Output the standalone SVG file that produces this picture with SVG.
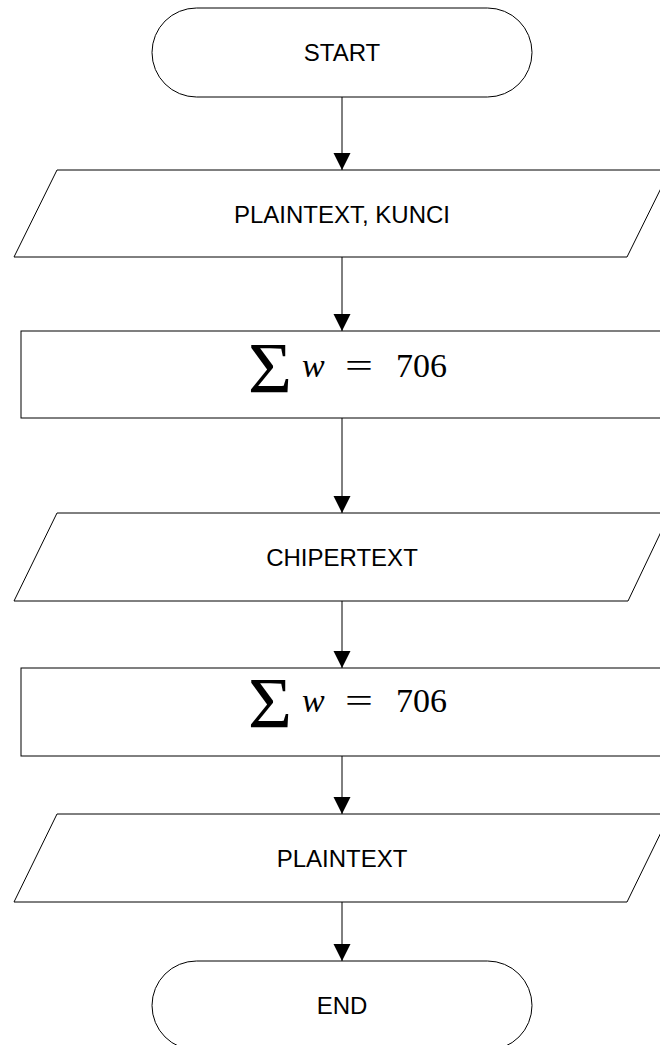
<svg xmlns="http://www.w3.org/2000/svg" width="660" height="1045" viewBox="0 0 660 1045">
  <style>
    .shape { fill: #ffffff; stroke: #000000; stroke-width: 1; }
    .label { font-family: "Liberation Sans", Arial, sans-serif; font-size: 24px; fill: #000000; text-anchor: middle; dominant-baseline: central; }
    .math { font-family: "Liberation Serif", "Times New Roman", serif; fill: #000000; }
    .sum { font-size: 72px; }
    .var { font-size: 34px; font-style: italic; }
    .num { font-size: 34px; }
    .edge { stroke: #000000; stroke-width: 1; fill: none; marker-end: url(#arrow); }
  </style>
  <defs>
    <marker id="arrow" markerUnits="userSpaceOnUse" markerWidth="18" markerHeight="18" refX="17" refY="9" orient="auto">
      <path d="M0,0.5 L17,9 L0,17.5 Z" fill="#000000"/>
    </marker>
  </defs>

  <rect width="660" height="1045" fill="#ffffff"/>

  <!-- connectors -->
  <g id="connectors">
    <line class="edge" x1="342" y1="97" x2="342" y2="170"/>
    <line class="edge" x1="342" y1="257" x2="342" y2="331"/>
    <line class="edge" x1="342" y1="418" x2="342" y2="513"/>
    <line class="edge" x1="342" y1="601" x2="342" y2="668"/>
    <line class="edge" x1="342" y1="756" x2="342" y2="814"/>
    <line class="edge" x1="342" y1="902" x2="342" y2="961"/>
  </g>

  <g id="start">
    <rect class="shape" x="152" y="8" width="380" height="89" rx="44.5" ry="44.5"/>
    <text class="label" x="342" y="52">START</text>
  </g>

  <g id="input-plaintext-kunci">
    <polygon class="shape" points="57,170 670,170 627,257 14,257"/>
    <text class="label" x="342" y="214">PLAINTEXT, KUNCI</text>
  </g>

  <g id="process-1">
    <rect class="shape" x="21" y="331" width="642" height="87"/>
    <text class="math sum" x="248" y="392" textLength="44" lengthAdjust="spacingAndGlyphs">Σ</text>
    <text class="math var" x="302" y="377">w</text>
    <text class="math num" x="345" y="377" textLength="28" lengthAdjust="spacingAndGlyphs">=</text>
    <text class="math num" x="396" y="377">706</text>
  </g>

  <g id="output-chipertext">
    <polygon class="shape" points="57,513 670,513 628,601 14,601"/>
    <text class="label" x="342" y="557">CHIPERTEXT</text>
  </g>

  <g id="process-2">
    <rect class="shape" x="21" y="668" width="642" height="88"/>
    <text class="math sum" x="248" y="727" textLength="44" lengthAdjust="spacingAndGlyphs">Σ</text>
    <text class="math var" x="302" y="712">w</text>
    <text class="math num" x="345" y="712" textLength="28" lengthAdjust="spacingAndGlyphs">=</text>
    <text class="math num" x="396" y="712">706</text>
  </g>

  <g id="output-plaintext">
    <polygon class="shape" points="57,814 670,814 627,902 14,902"/>
    <text class="label" x="342" y="858">PLAINTEXT</text>
  </g>

  <g id="end">
    <rect class="shape" x="152" y="961" width="380" height="89" rx="44.5" ry="44.5"/>
    <text class="label" x="342" y="1005">END</text>
  </g>
</svg>
